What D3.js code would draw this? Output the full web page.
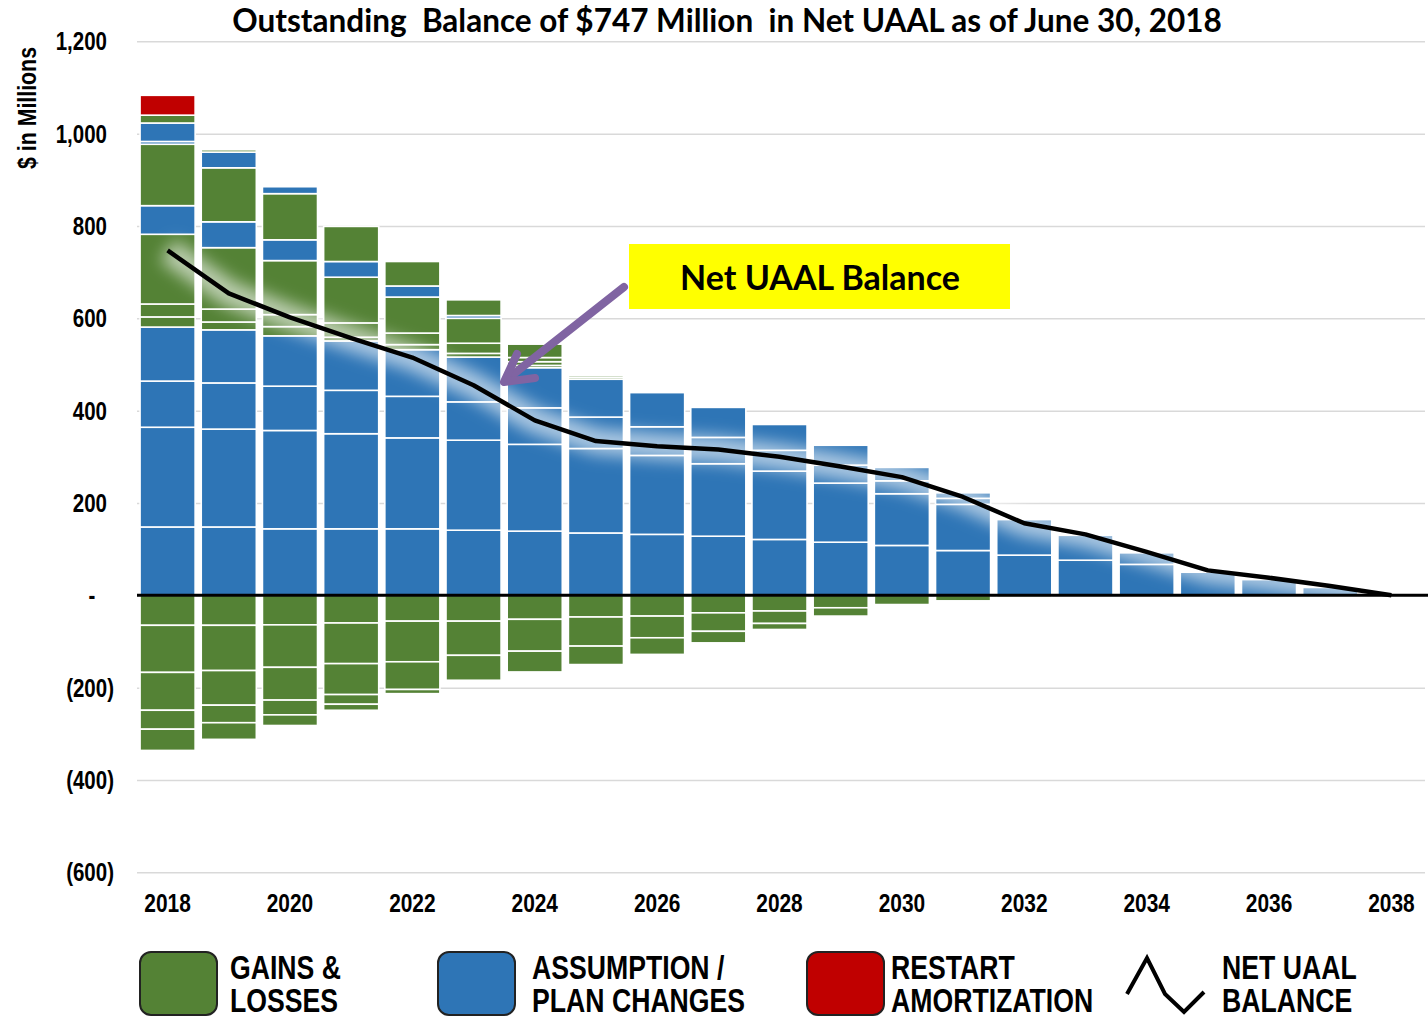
<!DOCTYPE html>
<html>
<head>
<meta charset="utf-8">
<script src="https://cdn.jsdelivr.net/npm/d3@7"></script>
<style>
  body { margin: 0; background: #fff; }
  .narrow { font-family: 'Liberation Sans', Arial, sans-serif; font-weight: bold; }
  .calib { font-family: Lato, 'Open Sans', sans-serif; font-weight: bold; }
</style>
</head>
<body>
<svg id="chart" width="1428" height="1018"></svg>
<script>
// years and chart data
const years = d3.range(2018, 2039);

// positive amortization layers, bottom to top (values by year)
const P1 = [148,148,144,144,144,141,139,135,132,128,121,115,108,97,87,76,67,50,34,17,0];
const P2 = [216,212,213,206,197,195,188,183,171,157,148,128,112,100,77,54,25,0,0,0,0];
const P3 = [100,100,96,94,90,83,79,68,62,57,45,39,28,13,0,0,0,0,0,0,0];
const P4 = [117,115,109,107,101,97,87,82,74,65,56,43,29,12,0,0,0,0,0,0,0];
const P5 = [22,17,20,8,11,8,5,4,0,0,0,0,0,0,0,0,0,0,0,0,0];
const P6 = [28,28,26,31,25,22,8,4,0,0,0,0,0,0,0,0,0,0,0,0,0];
const P7 = [151,133,117,99,78,54,9,0,0,0,0,0,0,0,0,0,0,0,0,0,0];
const P8 = [62,56,45,34,24,6,0,0,0,0,0,0,0,0,0,0,0,0,0,0,0];
const P9 = [133,117,100,76,53,34,29,0,0,0,0,0,0,0,0,0,0,0,0,0,0];
const P10 = [6,0,0,0,0,0,0,0,0,0,0,0,0,0,0,0,0,0,0,0,0];
const P11 = [40,34,15,0,0,0,0,0,0,0,0,0,0,0,0,0,0,0,0,0,0];
const P12 = [17,5,0,0,0,0,0,0,0,0,0,0,0,0,0,0,0,0,0,0,0];
const P13 = [43,0,0,0,0,0,0,0,0,0,0,0,0,0,0,0,0,0,0,0,0];
const posTypes = ['asm','asm','asm','asm','gl','gl','gl','asm','gl','asm','asm','gl','restart'];

// negative layers, from zero downward
const N1 = [-65,-65,-64,-60,-56,-56,-52,-47,-45,-38,-34,-27,-20,-12,-4,0,0,0,0,0,0];
const N2 = [-102,-98,-92,-88,-88,-74,-69,-63,-47,-40,-27,-18,0,0,0,0,0,0,0,0,0];
const N3 = [-82,-75,-71,-67,-60,-54,-45,-40,-36,-25,-13,0,0,0,0,0,0,0,0,0,0];
const N4 = [-41,-38,-32,-21,-9,0,0,0,0,0,0,0,0,0,0,0,0,0,0,0,0];
const N5 = [-46,-36,-23,-13,0,0,0,0,0,0,0,0,0,0,0,0,0,0,0,0,0];

const netUAAL = [747,654,602,557,515,455,379,334,323,316,300,279,256,213,156,132,94,54,38,20,0];

const yTicks = [-600,-400,-200,0,200,400,600,800,1000,1200];

const colors = {gl: '#548235', asm: '#2E75B6', restart: '#C00000'};
const squeeze = 0.82; // no narrow font installed, so condense by hand

const svg = d3.select('#chart');

const x = d3.scaleBand().domain(years).range([137, 1422]).paddingInner(0.1).paddingOuter(0.05);
const y = d3.scaleLinear().domain([-600, 1200]).range([872.3, 41.3]);

// gridlines
const yAxis = d3.axisLeft(y).tickValues(yTicks).tickSize(-(1425 - 137)).tickFormat('');
svg.append('g')
  .attr('transform', 'translate(137,0)')
  .call(yAxis)
  .call(g => g.select('.domain').remove())
  .call(g => g.selectAll('line').attr('stroke', '#d9d9d9').attr('stroke-width', 1.5));

// y labels
svg.append('g').selectAll('text')
  .data(yTicks)
  .join('text')
  .attr('class', 'narrow')
  .attr('font-size', 25)
  .attr('transform', d => `translate(${d > 0 ? 107 : d < 0 ? 114 : 92},${y(d) + 9}) scale(${squeeze},1)`)
  .attr('text-anchor', d => d === 0 ? 'middle' : 'end')
  .text(d => d === 0 ? '-' : d < 0 ? '(' + d3.format(',')(-d) + ')' : d3.format(',')(d));

// build stacked segments
const posLayers = [P1,P2,P3,P4,P5,P6,P7,P8,P9,P10,P11,P12,P13];
const negLayers = [N1,N2,N3,N4,N5];
const segs = [];
years.forEach((yr, i) => {
  let base = 0;
  posLayers.forEach((L, k) => {
    if (L[i] > 0) segs.push({year: yr, y0: base, y1: base + L[i], type: posTypes[k]});
    base += L[i];
  });
  base = 0;
  negLayers.forEach(L => {
    if (L[i] < 0) segs.push({year: yr, y0: base + L[i], y1: base, type: 'gl'});
    base += L[i];
  });
});

svg.append('g').selectAll('rect')
  .data(segs)
  .join('rect')
  .attr('x', d => x(d.year))
  .attr('width', x.bandwidth())
  .attr('y', d => y(d.y1))
  .attr('height', d => y(d.y0) - y(d.y1))
  .attr('fill', d => colors[d.type])
  .attr('stroke', '#fff')
  .attr('stroke-width', 1.6);

// glow under line
const defs = svg.append('defs');
defs.append('filter').attr('id', 'blur').attr('x', '-20%').attr('y', '-50%').attr('width', '140%').attr('height', '200%')
  .append('feGaussianBlur').attr('stdDeviation', 8);

const line = d3.line()
  .x((d, i) => x(years[i]) + x.bandwidth() / 2)
  .y(d => y(d));

svg.append('path')
  .datum(netUAAL)
  .attr('d', line)
  .attr('fill', 'none')
  .attr('stroke', '#fff')
  .attr('stroke-width', 26)
  .attr('stroke-opacity', 0.6)
  .attr('filter', 'url(#blur)');

// zero line
svg.append('line')
  .attr('x1', 137).attr('x2', 1428)
  .attr('y1', y(0)).attr('y2', y(0))
  .attr('stroke', '#000').attr('stroke-width', 3);

svg.append('path')
  .datum(netUAAL)
  .attr('d', line)
  .attr('fill', 'none')
  .attr('stroke', '#000')
  .attr('stroke-width', 4.5)
  .attr('stroke-linejoin', 'round');

// x labels
svg.append('g').selectAll('text')
  .data(years.filter(d => d % 2 === 0))
  .join('text')
  .attr('class', 'narrow')
  .attr('font-size', 25.5)
  .attr('transform', d => `translate(${x(d) + x.bandwidth() / 2},912) scale(${squeeze},1)`)
  .attr('text-anchor', 'middle')
  .text(d => d);

// axis title
svg.append('text')
  .attr('class', 'narrow')
  .attr('font-size', 26)
  .attr('transform', `translate(36,108) rotate(-90) scale(${squeeze},1)`)
  .attr('text-anchor', 'middle')
  .text('$ in Millions');

// title
svg.append('text')
  .attr('class', 'calib')
  .attr('font-size', 31.5)
  .attr('x', 727).attr('y', 32)
  .attr('text-anchor', 'middle')
  .attr('xml:space', 'preserve')
  .text('Outstanding  Balance of $747 Million  in Net UAAL as of June 30, 2018');

// annotation
svg.append('rect').attr('x', 629).attr('y', 244).attr('width', 381).attr('height', 65).attr('fill', '#ffff00');
svg.append('text')
  .attr('class', 'calib')
  .attr('font-size', 34)
  .attr('x', 820).attr('y', 290)
  .attr('text-anchor', 'middle')
  .text('Net UAAL Balance');

const arrow = svg.append('g')
  .attr('stroke', '#8064A2').attr('stroke-width', 8).attr('stroke-linecap', 'round').attr('fill', 'none');
arrow.append('line').attr('x1', 624).attr('y1', 287).attr('x2', 506).attr('y2', 380);
arrow.append('polyline').attr('points', '517,354 504,382 535,378').attr('stroke-linejoin', 'round');

// legend
const legend = [
  {type: 'gl', x: 140, tx: 230, lines: ['GAINS &', 'LOSSES']},
  {type: 'asm', x: 438, tx: 532, lines: ['ASSUMPTION /', 'PLAN CHANGES']},
  {type: 'restart', x: 807, tx: 891, lines: ['RESTART', 'AMORTIZATION']},
  {type: 'line', x: 1126, tx: 1222, lines: ['NET UAAL', 'BALANCE']}
];
const lg = svg.append('g').selectAll('g').data(legend).join('g');
lg.filter(d => d.type !== 'line').append('rect')
  .attr('x', d => d.x).attr('y', 952).attr('width', 77).attr('height', 63)
  .attr('rx', 11)
  .attr('fill', d => colors[d.type])
  .attr('stroke', '#222').attr('stroke-width', 2);
lg.filter(d => d.type === 'line').append('polyline')
  .attr('points', '1127,994 1147,958 1165,994 1184,1012 1204,992')
  .attr('fill', 'none').attr('stroke', '#000').attr('stroke-width', 4);
lg.each(function(d) {
  d3.select(this).selectAll('text')
    .data(d.lines)
    .join('text')
    .attr('class', 'narrow')
    .attr('font-size', 32.5)
    .attr('transform', (t, i) => `translate(${d.tx},${979 + i * 32.5}) scale(${squeeze},1)`)
    .text(t => t);
});
</script>
</body>
</html>
